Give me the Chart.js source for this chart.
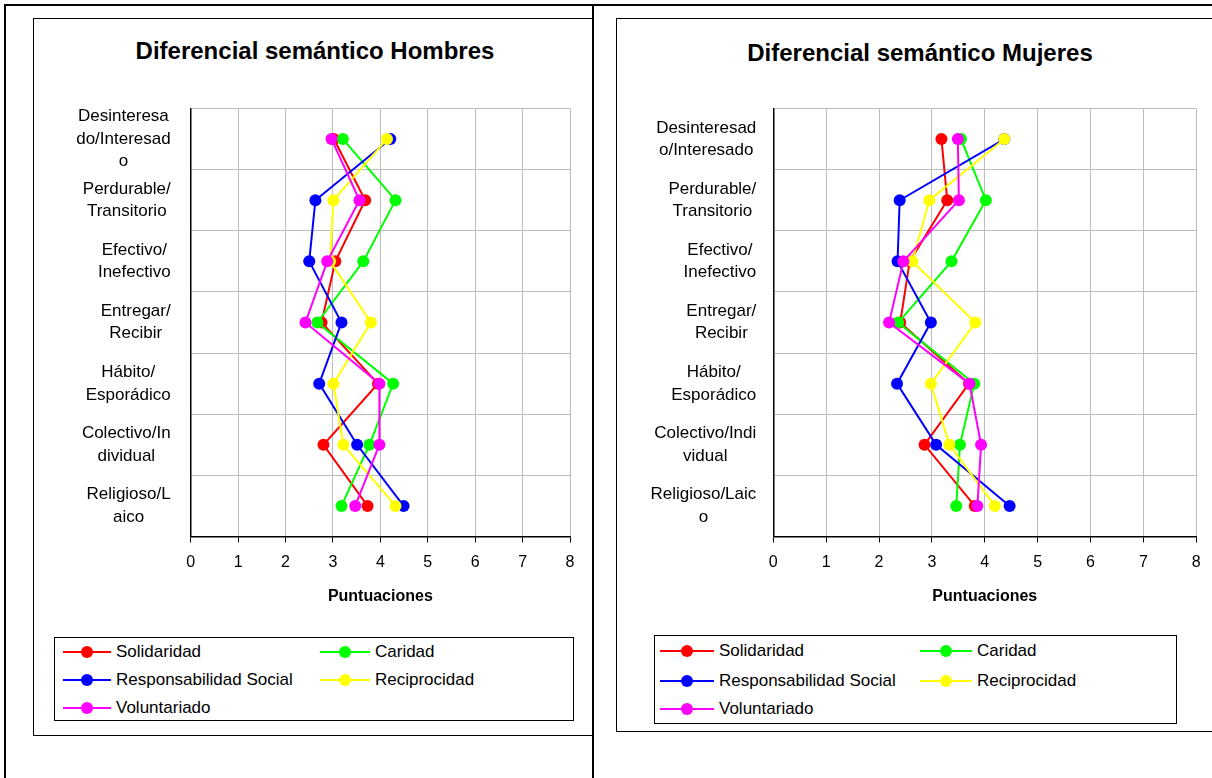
<!DOCTYPE html>
<html>
<head>
<meta charset="utf-8">
<script src="https://cdn.jsdelivr.net/npm/chart.js@4.4.1/dist/chart.umd.min.js"></script>
<style>
  html, body { margin:0; padding:0; background:#fff; width:1212px; height:778px; overflow:hidden; position:relative; font-family:"Liberation Sans", Arial, sans-serif; }
  .abs { position:absolute; }
  .frameTop { left:4px; top:4px; width:1212px; height:2px; background:#000; }
  .frameLeft { left:4px; top:4px; width:2px; height:778px; background:#000; }
  .frameMid { left:592px; top:4px; width:2px; height:778px; background:#000; }
  .box { border:1px solid #000; box-sizing:border-box; }
  .title { font-size:24px; font-weight:bold; color:#000; text-align:center; height:30px; line-height:30px; white-space:nowrap; }
  .legend { border:1px solid #000; box-sizing:border-box; background:#fff; }
  .item { position:absolute; height:20px; font-size:17px; line-height:20px; color:#000; white-space:nowrap; }
  .item .ln { position:absolute; top:9px; height:2px; }
  .item .dot { position:absolute; top:4px; width:12px; height:12px; border-radius:50%; }
  .item .tx { position:absolute; top:0; }
</style>
</head>
<body>
<div class="abs frameTop"></div>
<div class="abs frameLeft"></div>
<div class="abs frameMid"></div>
<div class="abs box" style="left:33px;top:18px;width:560px;height:718px;"></div>
<div class="abs box" style="left:616px;top:18px;width:620px;height:714px;"></div>
<div id="t1" class="abs title" style="left:115px;top:36px;width:400px;"></div>
<div id="t2" class="abs title" style="left:720px;top:38px;width:400px;"></div>
<canvas id="c1" class="abs" width="557" height="600" style="left:33px;top:18px;"></canvas>
<canvas id="c2" class="abs" width="610" height="600" style="left:616px;top:18px;"></canvas>
<div id="lg1" class="abs legend" style="left:54px;top:637px;width:520px;height:84px;"></div>
<div id="lg2" class="abs legend" style="left:654px;top:635px;width:523px;height:89px;"></div>
<script>
// ---- data ----
const titleHombres = 'Diferencial semántico Hombres';
const titleMujeres = 'Diferencial semántico Mujeres';
const seriesNames = ['Solidaridad', 'Caridad', 'Responsabilidad Social', 'Reciprocidad', 'Voluntariado'];
const seriesColors = ['#ff0000', '#00ff00', '#0000ff', '#ffff00', '#ff00ff'];

const catsHombres = [
  ['Desinteresa', 'do/Interesad', 'o'],
  ['Perdurable/', 'Transitorio'],
  ['Efectivo/', 'Inefectivo'],
  ['Entregar/', 'Recibir'],
  ['Hábito/', 'Esporádico'],
  ['Colectivo/In', 'dividual'],
  ['Religioso/L', 'aico']
];
const catsMujeres = [
  ['Desinteresad', 'o/Interesado'],
  ['Perdurable/', 'Transitorio'],
  ['Efectivo/', 'Inefectivo'],
  ['Entregar/', 'Recibir'],
  ['Hábito/', 'Esporádico'],
  ['Colectivo/Indi', 'vidual'],
  ['Religioso/Laic', 'o']
];

const hSolidaridad   = [3.02, 3.68, 3.05, 2.76, 3.95, 2.80, 3.73];
const hCaridad       = [3.21, 4.32, 3.64, 2.67, 4.27, 3.77, 3.18];
const hResponsab     = [4.21, 2.63, 2.50, 3.18, 2.71, 3.51, 4.49];
const hReciprocidad  = [4.14, 3.01, 2.94, 3.80, 3.01, 3.22, 4.32];
const hVoluntariado  = [2.97, 3.56, 2.88, 2.42, 3.98, 3.98, 3.47];

const mSolidaridad   = [3.18, 3.29, 2.58, 2.40, 3.70, 2.86, 3.81];
const mCaridad       = [3.55, 4.02, 3.37, 2.36, 3.80, 3.53, 3.46];
const mResponsab     = [4.37, 2.39, 2.35, 2.98, 2.34, 3.08, 4.47];
const mReciprocidad  = [4.37, 2.95, 2.63, 3.82, 2.98, 3.33, 4.19];
const mVoluntariado  = [3.49, 3.51, 2.46, 2.19, 3.71, 3.93, 3.86];

const xTicks = [0, 1, 2, 3, 4, 5, 6, 7, 8];
const xTitle = 'Puntuaciones';

// ---- chart building ----
const FAM = '"Liberation Sans", Arial, sans-serif';
document.getElementById('t1').textContent = titleHombres;
document.getElementById('t2').textContent = titleMujeres;

const yLabelPlugin = {
  id: 'ylabels',
  afterDraw(chart, args, opts) {
    const ys = chart.scales.y, ctx = chart.ctx;
    ctx.save();
    ctx.font = '17px ' + FAM;
    ctx.fillStyle = '#000';
    ctx.textAlign = 'center';
    ctx.textBaseline = 'middle';
    chart.data.labels.forEach((lines, i) => {
      const y = ys.getPixelForValue(i);
      const w = Math.max(...lines.map(l => ctx.measureText(l).width));
      const cx = chart.chartArea.left - opts.gap - w / 2;
      lines.forEach((l, k) => ctx.fillText(l, cx, y + (k - (lines.length - 1) / 2) * opts.lh));
    });
    ctx.restore();
  }
};

function makeChart(id, cats, values, yWidth, rightPad, gap) {
  const datasets = values.map((v, i) => ({
    label: seriesNames[i],
    data: v,
    borderColor: seriesColors[i],
    backgroundColor: seriesColors[i],
    pointBackgroundColor: seriesColors[i],
    pointBorderColor: seriesColors[i],
    pointRadius: 6,
    pointBorderWidth: 0,
    borderWidth: 2,
    tension: 0,
    order: values.length - i
  }));
  return new Chart(document.getElementById(id), {
    type: 'line',
    data: { labels: cats, datasets },
    plugins: [yLabelPlugin],
    options: {
      indexAxis: 'y',
      responsive: false,
      animation: false,
      devicePixelRatio: 1,
      layout: { padding: { left: 0, right: rightPad, top: 90.5, bottom: 3.5 } },
      plugins: {
        legend: { display: false },
        tooltip: { enabled: false },
        title: { display: false },
        ylabels: { gap: gap, lh: 22.5 }
      },
      scales: {
        x: {
          type: 'linear', min: xTicks[0], max: xTicks[xTicks.length - 1],
          afterBuildTicks: (s) => { s.ticks = xTicks.map(v => ({ value: v })); },
          afterFit: (s) => { s.height = 78; },
          grid: { color: '#bdbdbd', lineWidth: 1, tickColor: '#000', tickLength: 6, tickWidth: 1 },
          border: { color: '#000', width: 1.5 },
          ticks: { color: '#000', font: { family: FAM, size: 16 }, padding: 10, maxRotation: 0 },
          title: { display: true, text: xTitle, color: '#000', font: { family: FAM, size: 16, weight: 'bold' }, padding: { top: 4, bottom: 8 } }
        },
        y: {
          type: 'category', offset: true,
          afterFit: (s) => { s.width = yWidth; },
          grid: { color: '#bdbdbd', lineWidth: 1, offset: true, drawTicks: false },
          border: { color: '#000', width: 1.5 },
          ticks: { display: false }
        }
      }
    }
  });
}

makeChart('c1', catsHombres,
  [hSolidaridad, hCaridad, hResponsab, hReciprocidad, hVoluntariado], 157.7, 20, 20);
makeChart('c2', catsMujeres,
  [mSolidaridad, mCaridad, mResponsab, mReciprocidad, mVoluntariado], 157.3, 29.7, 17);

// ---- HTML legends ----
function buildLegend(id, pos) {
  const el = document.getElementById(id);
  seriesNames.forEach((name, i) => {
    const p = pos[i];
    const it = document.createElement('div');
    it.className = 'item';
    it.style.left = p[0] + 'px';
    it.style.top = p[1] + 'px';
    it.innerHTML = '<div class="ln" style="left:0;width:' + p[2] + 'px;background:' + seriesColors[i] + '"></div>' +
      '<div class="dot" style="left:' + (p[2] / 2 - 6) + 'px;background:' + seriesColors[i] + '"></div>' +
      '<span class="tx" style="left:' + (p[2] + 5) + 'px">' + name + '</span>';
    el.appendChild(it);
  });
}
// [left, top, lineLength] relative to legend box
buildLegend('lg1', [[8, 4, 48], [265, 4, 50], [8, 32, 48], [265, 32, 50], [8, 60, 48]]);
buildLegend('lg2', [[5, 5, 54], [265, 5, 52], [5, 35, 54], [265, 35, 52], [5, 63, 54]]);
</script>
</body>
</html>
